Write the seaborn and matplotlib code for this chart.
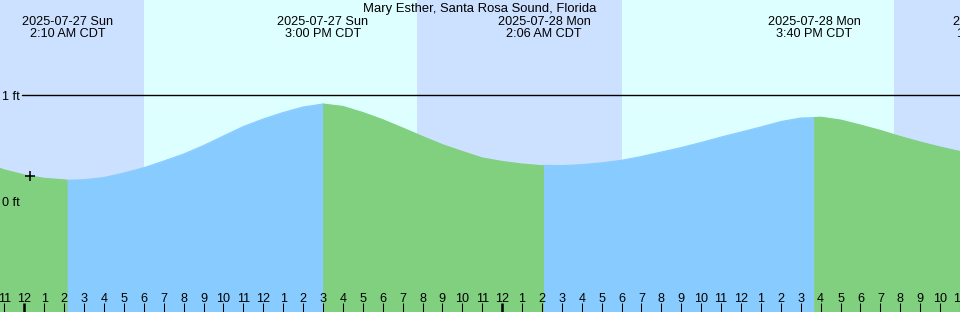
import matplotlib
matplotlib.use("Agg")
import matplotlib.pyplot as plt
import matplotlib.transforms as mtransforms
import numpy as np
import pandas as pd
import seaborn as sns

# ---------------- data ----------------
title = "Mary Esther, Santa Rosa Sound, Florida"

# hours since 2025-07-27 00:00 CDT and predicted height (ft)
hours = list(range(-2, 48))
heights = [0.363, 0.297, 0.250, 0.218, 0.204, 0.205, 0.226, 0.268, 0.318, 0.381,
           0.447, 0.527, 0.617, 0.706, 0.777, 0.838, 0.890, 0.918, 0.895, 0.838,
           0.770, 0.692, 0.612, 0.535, 0.471, 0.410, 0.377, 0.353, 0.337, 0.338,
           0.347, 0.364, 0.388, 0.424, 0.466, 0.508, 0.556, 0.607, 0.654, 0.702,
           0.753, 0.786, 0.794, 0.767, 0.720, 0.669, 0.612, 0.560, 0.513, 0.471]

extreme_hours = [2.167, 15.0, 26.1, 39.667]
extreme_heights = [0.20, 0.92, 0.34, 0.79]

label_hours = [2.167, 15.0, 26.1, 39.667, 48.9]
label_dates = ["2025-07-27 Sun", "2025-07-27 Sun", "2025-07-28 Mon",
               "2025-07-28 Mon", "2025-07-29 Tue"]
label_times = ["2:10 AM CDT", "3:00 PM CDT", "2:06 AM CDT", "3:40 PM CDT",
               "12:54 AM CDT"]

day_start = [6.0, 30.0]
day_end = [19.72, 43.67]

now_hour = 0.275
now_height = 0.24

tick_hours = list(range(-1, 48))
tick_labels = ["11", "12", "1", "2", "3", "4", "5", "6", "7", "8", "9", "10",
               "11", "12", "1", "2", "3", "4", "5", "6", "7", "8", "9", "10",
               "11", "12", "1", "2", "3", "4", "5", "6", "7", "8", "9", "10",
               "11", "12", "1", "2", "3", "4", "5", "6", "7", "8", "9", "10", "11"]
midnights = [0, 24]

level_values = [1.0, 0.0]
level_labels = ["1 ft", "0 ft"]

# ---------------- style ----------------
NIGHT = "#CCE0FF"
DAY = "#DDFFFF"
RISING = "#88CCFF"
FALLING = "#80D080"

sns.set_theme(style="white")
plt.rcParams["font.family"] = ["Liberation Sans", "DejaVu Sans"]

W, H = 960, 312
fig = plt.figure(figsize=(W / 100, H / 100), dpi=100)
ax = fig.add_axes([0, 0, 1, 1])
ax.set_facecolor(NIGHT)
ax.set_axisbelow(False)
for s in ax.spines.values():
    s.set_visible(False)

x0 = -24.5 / 20
x1 = (W - 24.5) / 20
ybot = (201.5 - 312) / 106.2
ytop = 201.5 / 106.2

for a, b in zip(day_start, day_end):
    ax.axvspan(a, b, color=DAY, lw=0, zorder=0)

# curve data
df = pd.DataFrame({"t": hours + extreme_hours, "h": heights + extreme_heights})
df = df.sort_values("t").drop_duplicates("t", keep="last").reset_index(drop=True)

bounds = [-np.inf] + extreme_hours + [np.inf]
colors = [FALLING, RISING, FALLING, RISING, FALLING]
for i in range(len(bounds) - 1):
    seg = df[(df["t"] >= bounds[i]) & (df["t"] <= bounds[i + 1])]
    ax.fill_between(seg["t"], ybot, seg["h"], color=colors[i], lw=0.6,
                    edgecolor=colors[i], zorder=1)
    sns.lineplot(data=seg, x="t", y="h", color=colors[i], lw=0.8,
                 estimator=None, sort=True, ax=ax, zorder=1.5)

ax.set_xlim(x0, x1)
ax.set_ylim(ybot, ytop)

# 1 ft line
ax.axhline(1.0, xmin=22 / W, xmax=1, color="black", lw=1.0, zorder=2)

DY = 1.5  # px correction so glyphs sit like the reference
FS = 9.1

# level labels
ytrans = mtransforms.blended_transform_factory(ax.transAxes, ax.transData)
for v, lab in zip(level_values, level_labels):
    ax.text(2 / W, v - DY / 106.2, lab, transform=ytrans, ha="left", va="center",
            fontsize=FS, color="black", zorder=3)

# current-time marker
ax.plot([now_hour], [now_height], marker="+", color="black", ms=7, mew=1.1,
        ls="none", zorder=4)

# ticks
ax.set_xticks(midnights)
ax.set_xticks([h for h in tick_hours if h not in midnights], minor=True)
ax.tick_params(axis="x", which="both", direction="in", bottom=True,
               labelbottom=False, color="black", length=6.6)
ax.tick_params(axis="x", which="major", width=1.8)
ax.tick_params(axis="x", which="minor", width=0.75)
ax.set_yticks([])
ax.set_xlabel("")
ax.set_ylabel("")

xtrans = mtransforms.blended_transform_factory(ax.transData, ax.transAxes)
for h, lab in zip(tick_hours, tick_labels):
    ax.text(h, 1 - (297.5 + DY) / H, lab, transform=xtrans, ha="center", va="center",
            fontsize=FS, color="black", clip_on=False, zorder=3)

# extreme labels
for h, d, t in zip(label_hours, label_dates, label_times):
    ax.text(h, 1 - (20.3 + DY) / H, d, transform=xtrans, ha="center", va="center",
            fontsize=FS, color="black", clip_on=False, zorder=3)
    ax.text(h, 1 - (32.2 + DY) / H, t, transform=xtrans, ha="center", va="center",
            fontsize=FS, color="black", clip_on=False, zorder=3)

ax.text(0.5, 1 - (7.8 + DY) / H, title, transform=ax.transAxes, ha="center",
        va="center", fontsize=9.4, color="black", zorder=3)

if ax.get_legend() is not None:
    ax.get_legend().remove()

fig.savefig("out.png", dpi=100)
